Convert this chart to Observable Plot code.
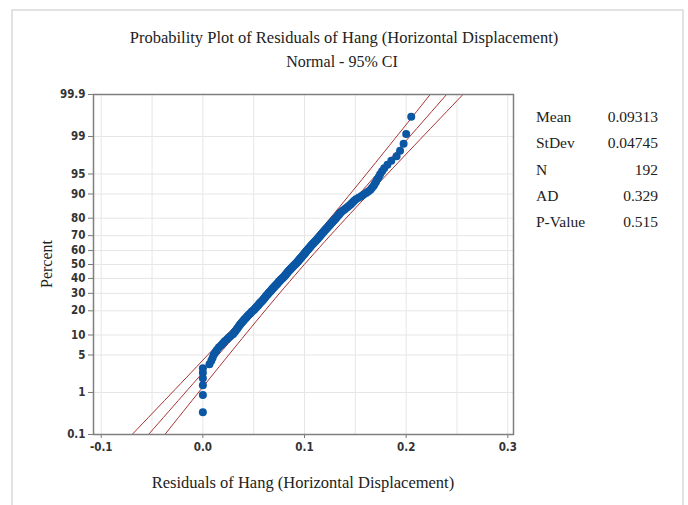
<!DOCTYPE html>
<html>
<head>
<meta charset="utf-8">
<script src="https://cdn.jsdelivr.net/npm/d3@7"></script>
<script src="https://cdn.jsdelivr.net/npm/@observablehq/plot@0.6"></script>
<style>
  html, body { margin: 0; padding: 0; background: #fff; }
  #chart { width: 688px; height: 505px; position: relative; overflow: hidden; }
</style>
</head>
<body>
<div id="chart"></div>
<script>
// ---- data ----
const residuals = [
  0,0,0,0,0,0,0.0065,0.0083,0.0096,0.0107,
  0.0124,0.0139,0.0158,0.0180,0.0198,0.0215,0.0238,0.0256,0.0273,0.0296,
  0.0307,0.0319,0.0330,0.0340,0.0349,0.0360,0.0368,0.0379,0.0389,0.0401,
  0.0409,0.0422,0.0431,0.0440,0.0451,0.0463,0.0472,0.0482,0.0495,0.0507,
  0.0514,0.0523,0.0530,0.0541,0.0547,0.0557,0.0562,0.0573,0.0581,0.0589,
  0.0597,0.0602,0.0611,0.0616,0.0624,0.0630,0.0639,0.0645,0.0651,0.0661,
  0.0666,0.0675,0.0680,0.0689,0.0693,0.0702,0.0707,0.0716,0.0721,0.0731,
  0.0735,0.0744,0.0749,0.0758,0.0763,0.0771,0.0777,0.0786,0.0791,0.0801,
  0.0805,0.0813,0.0817,0.0825,0.0829,0.0837,0.0841,0.0849,0.0853,0.0862,
  0.0867,0.0876,0.0881,0.0890,0.0895,0.0904,0.0909,0.0917,0.0922,0.0931,
  0.0935,0.0943,0.0947,0.0955,0.0959,0.0967,0.0971,0.0979,0.0983,0.0991,
  0.0995,0.1003,0.1007,0.1015,0.1019,0.1027,0.1031,0.1039,0.1043,0.1051,
  0.1056,0.1065,0.1070,0.1079,0.1084,0.1093,0.1098,0.1107,0.1112,0.1121,
  0.1126,0.1135,0.1140,0.1149,0.1154,0.1163,0.1168,0.1177,0.1182,0.1191,
  0.1197,0.1207,0.1213,0.1223,0.1229,0.1239,0.1245,0.1255,0.1261,0.1271,
  0.1278,0.1289,0.1296,0.1307,0.1314,0.1325,0.1332,0.1343,0.1350,0.1361,
  0.1375,0.1391,0.1404,0.1421,0.1435,0.1451,0.1462,0.1477,0.1489,0.1506,
  0.1531,0.1557,0.1579,0.1606,0.1627,0.1649,0.1664,0.1681,0.1691,0.1704,
  0.1715,0.1731,0.1744,0.1763,0.1784,0.1816,0.1854,0.1906,0.1940,0.1975,
  0.2000,0.2050
];
const statLabels = ["Mean", "StDev", "N", "AD", "P-Value"];
const statValues = ["0.09313", "0.04745", "192", "0.329", "0.515"];
const mean = 0.09313, sd = 0.04745, nObs = 192;
const yTicks = [0.1, 1, 5, 10, 20, 30, 40, 50, 60, 70, 80, 90, 95, 99, 99.9];
const yTickLabels = ["0.1","1","5","10","20","30","40","50","60","70","80","90","95","99","99.9"];
const xTicks = [-0.1, 0, 0.1, 0.2, 0.3];
const xTickLabels = ["-0.1", "0.0", "0.1", "0.2", "0.3"];
const xGrid = [-0.1, -0.05, 0, 0.05, 0.1, 0.15, 0.2, 0.25, 0.3];
const titleText = "Probability Plot of Residuals of Hang (Horizontal Displacement)";
const subtitleText = "Normal - 95% CI";
const xLabel = "Residuals of Hang (Horizontal Displacement)";
const yLabel = "Percent";

// ---- inverse normal CDF (Acklam) ----
function probit(p) {
  const a = [-3.969683028665376e+01, 2.209460984245205e+02, -2.759285104469687e+02, 1.383577518672690e+02, -3.066479806614716e+01, 2.506628277459239e+00];
  const b = [-5.447609879822406e+01, 1.615858368580409e+02, -1.556989798598866e+02, 6.680131188771972e+01, -1.328068155288572e+01];
  const c = [-7.784894002430293e-03, -3.223964580411365e-01, -2.400758277161838e+00, -2.549732539343734e+00, 4.374664141464968e+00, 2.938163982698783e+00];
  const d = [7.784695709041462e-03, 3.224671290700398e-01, 2.445134137142996e+00, 3.754408661907416e+00];
  const pl = 0.02425, ph = 1 - pl;
  let q, r;
  if (p < pl) { q = Math.sqrt(-2 * Math.log(p)); return (((((c[0]*q+c[1])*q+c[2])*q+c[3])*q+c[4])*q+c[5]) / ((((d[0]*q+d[1])*q+d[2])*q+d[3])*q+1); }
  if (p > ph) { q = Math.sqrt(-2 * Math.log(1 - p)); return -(((((c[0]*q+c[1])*q+c[2])*q+c[3])*q+c[4])*q+c[5]) / ((((d[0]*q+d[1])*q+d[2])*q+d[3])*q+1); }
  q = p - 0.5; r = q * q;
  return (((((a[0]*r+a[1])*r+a[2])*r+a[3])*r+a[4])*r+a[5])*q / (((((b[0]*r+b[1])*r+b[2])*r+b[3])*r+b[4])*r+1);
}

// points: median ranks
const pts = residuals.map((v, i) => ({x: v, z: probit((i + 1 - 0.3) / (nObs + 0.4))}));

// fit line and 95% CI
const zLo = probit(0.001), zHi = probit(0.999);
const curve = [];
for (let k = 0; k <= 60; k++) {
  const z = zLo + (zHi - zLo) * k / 60;
  const fit = mean + sd * z;
  const half = 1.96 * sd * Math.sqrt(1 / nObs + z * z / (2 * nObs));
  curve.push({z, fit, lo: fit - half, hi: fit + half});
}

const axisFont = "'Liberation Sans Narrow', 'DejaVu Sans Condensed', 'Roboto Condensed', 'Arial Narrow', sans-serif";
const serif = "'Liberation Serif', 'Times New Roman', serif";
const lineColor = "#a83232";

const plot = Plot.plot({
  width: 688,
  height: 505,
  marginLeft: 93,
  marginRight: 175,
  marginTop: 94,
  marginBottom: 71,
  style: {fontFamily: axisFont, fontSize: "11px", color: "#333", background: "transparent"},
  x: {domain: [-0.1076, 0.3056]},
  y: {domain: [zLo, zHi]},
  marks: [
    Plot.gridX(xGrid, {stroke: "#e6e6e6", strokeOpacity: 1, strokeWidth: 1}),
    Plot.gridY(yTicks.map(t => probit(t / 100)), {stroke: "#e6e6e6", strokeOpacity: 1, strokeWidth: 1}),
    Plot.axisX(xTicks, {tickSize: 4, tickPadding: 4, tickFormat: (d, i) => xTickLabels[i], label: null, stroke: "#7a7a7a", fontSize: 11.5, fontWeight: 600, fill: "#333"}),
    Plot.axisY(yTicks.map(t => probit(t / 100)), {tickSize: 5, tickPadding: 3, tickFormat: (d, i) => yTickLabels[i], label: null, stroke: "#7a7a7a", fontSize: 11.5, fontWeight: 600, fill: "#333"}),
    Plot.line(curve, {x: "lo", y: "z", stroke: lineColor, strokeWidth: 1}),
    Plot.line(curve, {x: "fit", y: "z", stroke: lineColor, strokeWidth: 1}),
    Plot.line(curve, {x: "hi", y: "z", stroke: lineColor, strokeWidth: 1}),
    Plot.frame({stroke: "#7f7f7f", strokeWidth: 1.5}),
    Plot.dot(pts, {x: "x", y: "z", r: 4, fill: "#0b57a4", stroke: "none"})
  ]
});

document.getElementById("chart").appendChild(plot);

// annotations
const svg = d3.select(plot);
svg.insert("rect", ":first-child")
  .attr("x", 12).attr("y", 10).attr("width", 671).attr("height", 520)
  .attr("fill", "#fff").attr("stroke", "#d9d9d9").attr("stroke-width", 1.5);

const g = svg.append("g").attr("font-family", serif).attr("fill", "#222");
g.append("text").attr("x", 344).attr("y", 43).attr("text-anchor", "middle").attr("font-size", 16.5).text(titleText);
g.append("text").attr("x", 342).attr("y", 67).attr("text-anchor", "middle").attr("font-size", 16).text(subtitleText);
g.append("text").attr("x", 303).attr("y", 488).attr("text-anchor", "middle").attr("font-size", 16.5).text(xLabel);
g.append("text").attr("transform", "translate(52,264) rotate(-90)").attr("text-anchor", "middle").attr("font-size", 16).text(yLabel);
statLabels.forEach((lab, i) => {
  const yy = 122 + i * 26.3;
  g.append("text").attr("x", 536).attr("y", yy).attr("text-anchor", "start").attr("font-size", 15.5).text(lab);
  g.append("text").attr("x", 658).attr("y", yy).attr("text-anchor", "end").attr("font-size", 15.5).text(statValues[i]);
});
</script>
</body>
</html>
